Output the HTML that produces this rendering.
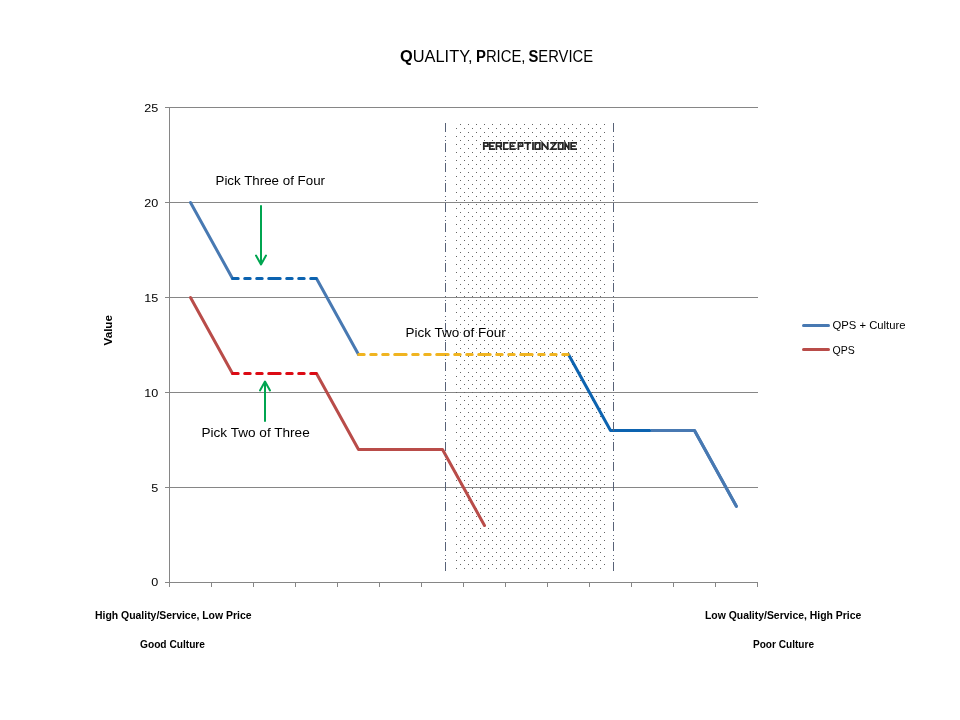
<!DOCTYPE html>
<html><head><meta charset="utf-8">
<style>
html,body{margin:0;padding:0;background:#fff;width:960px;height:720px;overflow:hidden;}
svg{display:block;will-change:transform;}
text{font-family:"Liberation Sans",sans-serif;fill:#000;}
</style></head><body>
<svg width="960" height="720" viewBox="0 0 960 720">
<defs>
<pattern id="dots" x="456" y="124" width="8" height="8" patternUnits="userSpaceOnUse">
<rect x="4" y="0" width="1" height="1" fill="#646464"/>
<rect x="0" y="4" width="1" height="1" fill="#646464"/>
</pattern>
</defs>
<rect width="960" height="720" fill="#fff"/>

<!-- title -->
<g font-size="16">
<text x="400" y="62" textLength="72.5" lengthAdjust="spacingAndGlyphs"><tspan font-weight="bold">Q</tspan>UALITY,</text>
<text x="476" y="62" textLength="49.5" lengthAdjust="spacingAndGlyphs"><tspan font-weight="bold">P</tspan>RICE,</text>
<text x="528.5" y="62" textLength="64.5" lengthAdjust="spacingAndGlyphs"><tspan font-weight="bold">S</tspan>ERVICE</text>
</g>

<!-- gridlines -->
<g stroke="#868686" stroke-width="1" fill="none" shape-rendering="crispEdges">
<path d="M165,107.5H758M165,202.5H758M165,297.5H758M165,392.5H758M165,487.5H758M165,582.5H758"/>
<path d="M169.5,107V587"/>
<path d="M211.5,582V587M253.5,582V587M295.5,582V587M337.5,582V587M379.5,582V587M421.5,582V587M463.5,582V587M505.5,582V587M547.5,582V587M589.5,582V587M631.5,582V587M673.5,582V587M715.5,582V587M757.5,582V587"/>
</g>

<!-- y tick labels -->
<g font-size="11" text-anchor="end" lengthAdjust="spacingAndGlyphs">
<text x="158.2" y="111.7" textLength="14" lengthAdjust="spacingAndGlyphs">25</text>
<text x="158.2" y="206.7" textLength="14" lengthAdjust="spacingAndGlyphs">20</text>
<text x="158.2" y="301.7" textLength="14" lengthAdjust="spacingAndGlyphs">15</text>
<text x="158.2" y="396.7" textLength="14" lengthAdjust="spacingAndGlyphs">10</text>
<text x="158.2" y="491.7" textLength="7" lengthAdjust="spacingAndGlyphs">5</text>
<text x="158.2" y="586.2" textLength="7" lengthAdjust="spacingAndGlyphs">0</text>
</g>

<!-- Value -->
<text transform="translate(111.7,345.5) rotate(-90)" font-size="11.5" font-weight="bold" textLength="30.5" lengthAdjust="spacingAndGlyphs">Value</text>

<!-- zone dots -->
<rect x="455" y="122" width="152" height="449" fill="url(#dots)"/>

<!-- series lines -->
<g fill="none" stroke-width="3" stroke-linejoin="round" stroke-linecap="round">
<path d="M190.5,202.5L232.5,278.5" stroke="#4879b2"/>
<path d="M316.5,278.5L358.5,354.5" stroke="#4879b2"/>
<path d="M568.5,354.5L610.5,430.5L650,430.5" stroke="#0c63b0"/>
<path d="M651,430.5L694.5,430.5L736.5,506.5" stroke="#4879b2" stroke-linecap="butt"/>
<path d="M694.5,430.5L736.5,506.5" stroke="#4879b2"/>
<path d="M190.5,297.5L232.5,373.5" stroke="#b94c49"/>
<path d="M316.5,373.5L358.5,449.5L442.5,449.5L484.5,525.5" stroke="#b94c49"/>
</g>
<g fill="none" stroke-width="3" stroke-linecap="round" stroke-dasharray="5.5 6.5" stroke-dashoffset="-0.2">
<path d="M232.5,278.5h42M274.5,278.5h42" stroke="#0c63b0"/>
<path d="M232.5,373.5h42M274.5,373.5h42" stroke="#dc0a14"/>
<path d="M358.5,354.5h42M400.5,354.5h42M442.5,354.5h42M484.5,354.5h42M526.5,354.5h42" stroke="#f0b420"/>
</g>

<!-- annotations -->
<text x="215.5" y="185" font-size="12.3" textLength="109.5" lengthAdjust="spacingAndGlyphs">Pick Three of Four</text>
<text x="201.5" y="437" font-size="12.3" textLength="108.2" lengthAdjust="spacingAndGlyphs">Pick Two of Three</text>
<text x="405.4" y="337" font-size="12.3" textLength="100.3" lengthAdjust="spacingAndGlyphs">Pick Two of Four</text>

<!-- arrows -->
<g stroke="#00a550" stroke-width="2" fill="none" stroke-linecap="round" stroke-linejoin="round">
<path d="M261,206V264M256,255.5L261,264.5L266,255.5"/>
<path d="M265,421V382M260,390.5L265,381.5L270,390.5"/>
</g>

<!-- perception zone -->
<path d="M483.8,149.9V142.9H487.8V146H483.8M495.0,142.9H489.8V149.1H495.0M489.8,146H493.7M496.4,149.9V142.9H501.2V146H496.4M499.7,146L501.2,149.1V149.9M508.4,142.9H503.8V149.1H508.4M515.8,142.9H510.3V149.1H515.8M510.3,146H514.5M518.4,149.9V142.9H522.6V146H518.4M524.1,142.9H531.2M527.7,142.9V149.9M533.0,142.1V149.9M535.2,142.9H539.8V149.1H535.2ZM542.2,149.9V142.9L547.7,149.1M547.7,149.9V142.1M550.2,142.9H556.0L551.0,149.1H556.8M558.5,142.9H562.9V149.1H558.5ZM565.1,149.9V142.9L568.8,149.1M568.8,149.9V142.1M577.0,142.9H571.1V149.1H577.0M571.1,146H575.7" fill="none" stroke="#262626" stroke-width="1.75" stroke-linejoin="miter"/>
<g stroke="#586277" stroke-width="1" fill="none" shape-rendering="crispEdges">
<path transform="translate(445.5,0)" d="M0,123v9M0,136v1M0,140v1M0,143v9M0,156v1M0,160v1M0,163v9M0,176v1M0,180v1M0,183v9M0,196v1M0,200v1M0,203v9M0,216v1M0,220v1M0,223v9M0,236v1M0,240v1M0,243v9M0,256v1M0,260v1M0,263v9M0,276v1M0,280v1M0,283v9M0,296v1M0,300v1M0,303v9M0,316v1M0,320v1M0,323v9M0,336v1M0,340v1M0,342v9M0,355v1M0,359v1M0,362v9M0,375v1M0,379v1M0,382v9M0,395v1M0,399v1M0,402v9M0,415v1M0,419v1M0,422v9M0,435v1M0,439v1M0,442v9M0,455v1M0,459v1M0,462v9M0,475v1M0,479v1M0,482v9M0,495v1M0,499v1M0,502v9M0,515v1M0,519v1M0,522v9M0,535v1M0,539v1M0,542v9M0,555v1M0,559v1M0,562v9"/>
<path transform="translate(613.5,0)" d="M0,123v9M0,136v1M0,140v1M0,143v9M0,156v1M0,160v1M0,163v9M0,176v1M0,180v1M0,183v9M0,196v1M0,200v1M0,203v9M0,216v1M0,220v1M0,223v9M0,236v1M0,240v1M0,243v9M0,256v1M0,260v1M0,263v9M0,276v1M0,280v1M0,283v9M0,296v1M0,300v1M0,303v9M0,316v1M0,320v1M0,323v9M0,336v1M0,340v1M0,342v9M0,355v1M0,359v1M0,362v9M0,375v1M0,379v1M0,382v9M0,395v1M0,399v1M0,402v9M0,415v1M0,419v1M0,422v9M0,435v1M0,439v1M0,442v9M0,455v1M0,459v1M0,462v9M0,475v1M0,479v1M0,482v9M0,495v1M0,499v1M0,502v9M0,515v1M0,519v1M0,522v9M0,535v1M0,539v1M0,542v9M0,555v1M0,559v1M0,562v9"/>
</g>

<!-- legend -->
<g stroke-width="3" stroke-linecap="round">
<path d="M803.5,325.5H828.5" stroke="#4879b2"/>
<path d="M803.5,349.5H828.5" stroke="#b94c49"/>
</g>
<text x="832.5" y="329" font-size="10.5" textLength="73" lengthAdjust="spacingAndGlyphs">QPS + Culture</text>
<text x="832.5" y="353.5" font-size="10.5">QPS</text>

<!-- bottom labels -->
<g font-size="11" font-weight="bold">
<text x="95" y="619" textLength="156.5" lengthAdjust="spacingAndGlyphs">High Quality/Service, Low Price</text>
<text x="140" y="648" textLength="65" lengthAdjust="spacingAndGlyphs">Good Culture</text>
<text x="705" y="619" textLength="156.3" lengthAdjust="spacingAndGlyphs">Low Quality/Service, High Price</text>
<text x="753" y="648" textLength="61" lengthAdjust="spacingAndGlyphs">Poor Culture</text>
</g>
</svg>
</body></html>
